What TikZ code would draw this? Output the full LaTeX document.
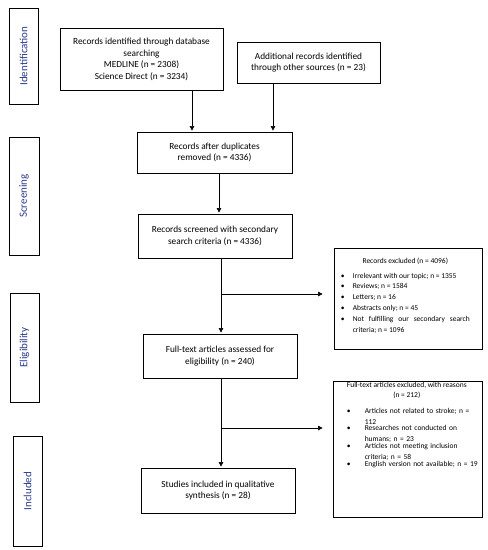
\documentclass[tikz,border=0pt]{standalone}
\usepackage{fontspec}
\setmainfont{Carlito}
\usetikzlibrary{arrows.meta}
\definecolor{lbl}{RGB}{40,60,140}
\newcommand{\bitem}[2]{\par\noindent\hangindent=#1\hangafter=1\makebox[#1][l]{\textbullet}#2}
\newcommand{\pitem}[2]{\par\noindent\makebox[18pt][l]{\textbullet}\parbox[t]{#1}{\raggedright #2}}
\newcommand{\nohyph}{\hyphenpenalty=10000\relax\exhyphenpenalty=10000\relax}
\begin{document}
\begin{tikzpicture}[x=1pt,y=-1pt,
  box/.style={draw, line width=0.8pt, align=center, inner sep=0pt,
    font=\fontsize{9.3}{11.5}\selectfont},
  side/.style={draw, line width=0.8pt, inner sep=0pt, text=lbl, rotate=90,
    font=\fontsize{11}{13}\selectfont},
  exbox/.style={draw, line width=0.8pt, inner sep=0pt},
  extext/.style={anchor=north west, inner sep=0pt, align=justify,
    font=\fontsize{7.5}{10.8}\selectfont\nohyph},
  arr/.style={line width=0.6pt, -{Triangle[width=4.5pt,length=4.5pt]}, shorten >=1pt},
  ln/.style={line width=0.6pt}]
\useasboundingbox (0,0) rectangle (488,550);

% side labels
\node[side, minimum width=96pt, minimum height=29pt] (s1) at (23.5,56) {Identification};
\node[side, minimum width=118pt, minimum height=30pt] (s2) at (24,196) {Screening};
\node[side, minimum width=109pt, minimum height=29pt] (s3) at (24.5,347.5) {Eligibility};
\node[side, minimum width=110pt, minimum height=29pt] (s4) at (27.5,491) {Included};

% main boxes
\node[box, minimum width=163pt, minimum height=62pt] (b1) at (141.5,59.5)
  {Records identified through database\\searching\\MEDLINE (n = 2308)\\Science Direct (n = 3234)};
\node[box, minimum width=143pt, minimum height=41pt] (b2) at (308.5,62.5)
  {Additional records identified\\through other sources (n = 23)};
\node[box, minimum width=155pt, minimum height=41pt] (b3) at (214.5,152.5)
  {Records after duplicates\\removed (n = 4336)};
\node[box, minimum width=154pt, minimum height=44pt] (b4) at (215,236)
  {Records screened with secondary\\search criteria (n = 4336)};
\node[box, minimum width=154pt, minimum height=44pt] (b5) at (220,356)
  {Full-text articles assessed for\\eligibility (n = 240)};
\node[box, minimum width=154pt, minimum height=45pt] (b6) at (218,490.5)
  {Studies included in qualitative\\synthesis (n = 28)};

% exclusion boxes
\node[exbox, minimum width=148pt, minimum height=101pt] (e1) at (408,298.5) {};
\node[extext, text width=129pt] (e1t) at ([shift={(7,10)}]e1.north west)
  {{\centering Records excluded (n = 4096)\par}\vspace{4pt}%
   \bitem{12pt}{Irrelevant with our topic; n = 1355}%
   \bitem{12pt}{Reviews; n = 1584}%
   \bitem{12pt}{Letters; n = 16}%
   \bitem{12pt}{Abstracts only; n = 45}%
   \bitem{12pt}{Not fulfilling our secondary search criteria; n = 1096}\par};

\node[exbox, minimum width=149pt, minimum height=136pt] (e2) at (407.5,449) {};
\node[extext, text width=138pt] (e2tt) at ([shift={(5,1)}]e2.north west)
  {\centering Full-text articles excluded, with reasons\\(n = 212)\par};
\node[extext, text width=135pt, align=left] (e2t) at ([shift={(14,22)}]e2.north west)
  {\pitem{117pt}{Articles not related to stroke; n =\\112}%
   \pitem{117pt}{Researches not conducted on\\humans; n = 23}%
   \pitem{117pt}{Articles not meeting inclusion\\criteria; n = 58}%
   \pitem{117pt}{English version not available; n = 19}\par};

% connectors
\draw[arr] ([xshift=50.5pt]b1.south) -- ([xshift=50.5pt]b1.south |- b3.north);
\draw[arr] ([xshift=-35.5pt]b2.south) -- ([xshift=-35.5pt]b2.south |- b3.north);
\draw[arr] ([xshift=4.5pt]b3.south) -- ([xshift=4.5pt]b3.south |- b4.north);
\draw[arr] ([xshift=6pt]b4.south) -- ([xshift=6pt]b4.south |- b5.north);
\coordinate (j1) at (221,294);
\draw[arr, shorten >=11pt] (j1) -- (j1 -| e1.west);
\draw[arr] ([xshift=1pt]b5.south) -- ([xshift=1pt]b5.south |- b6.north);
\coordinate (j2) at (221,428);
\draw[arr, shorten >=10pt] (j2) -- (j2 -| e2.west);
\end{tikzpicture}
\end{document}
